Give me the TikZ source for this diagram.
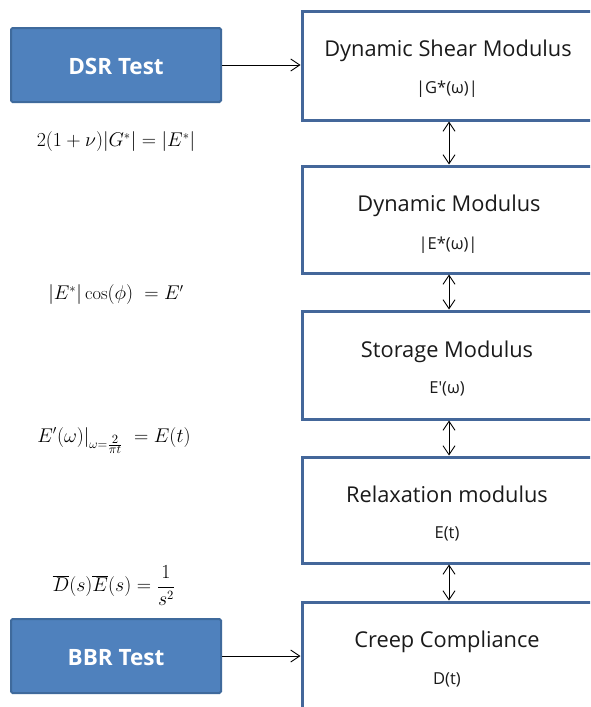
\documentclass[tikz,border=0pt]{standalone}
\usepackage{fontspec}
\usepackage{graphicx}
\usetikzlibrary{arrows.meta}
\newfontfamily\boxfont{Open Sans}
\definecolor{testfill}{HTML}{4F81BD}
\definecolor{testdraw}{HTML}{3F6A9C}
\definecolor{rboxdraw}{HTML}{44679A}
\definecolor{txt}{HTML}{1A1A1A}
\newcommand{\eqscale}[1]{\scalebox{1.15}{#1}}
\begin{document}
\begin{tikzpicture}[x=1pt,y=-1pt,
  testbox/.style={fill=testfill,draw=testdraw,line width=2pt,rounded corners=1.5pt,
    minimum width=210pt,minimum height=74pt,inner sep=0pt},
  testlabel/.style={anchor=base,text=white,font=\boxfont\bfseries\fontsize{22.5}{24}\selectfont,inner sep=0pt},
  rbox/.style={draw=rboxdraw,line width=3pt,minimum width=294pt,inner sep=0pt,fill=white},
  title/.style={anchor=base,text=txt,font=\boxfont\fontsize{21.8}{24}\selectfont,inner sep=0pt},
  sub/.style={anchor=base,text=txt,font=\boxfont\fontsize{16.5}{18}\selectfont,inner sep=0pt},
  eq/.style={anchor=base,inner sep=0pt,font=\fontsize{16}{18}\selectfont},
  conn/.style={line width=0.9pt,black},
  tip/.tip={Straight Barb[length=9pt,width=12pt,line width=0.9pt]}
]
\useasboundingbox (0,0) rectangle (590,707);
\clip (0,0) rectangle (590,707);
\fill[white] (0,0) rectangle (590,707);

% right boxes
\node[rbox,minimum height=109pt] (b1) at (449,65.5) {};
\node[rbox,minimum height=107pt] (b2) at (449,219.5) {};
\node[rbox,minimum height=108pt] (b3) at (449,365) {};
\node[rbox,minimum height=106pt] (b4) at (449,510) {};
\node[rbox,minimum height=112pt] (b5) at (449,658) {};

\node[title] (t1) at (448,56.7) {Dynamic Shear Modulus};
\node[sub]   (s1) at (447,93) {|G*(ω)|};
\node[title] (t2) at (449,211.7) {Dynamic Modulus};
\node[sub]   (s2) at (448,249) {|E*(ω)|};
\node[title] (t3) at (447,357.3) {Storage Modulus};
\node[sub]   (s3) at (447,393) {E′(ω)};
\node[title] (t4) at (447,502.3) {Relaxation modulus};
\node[sub]   (s4) at (447,538) {E(t)};
\node[title] (t5) at (447,647.7) {Creep Compliance};
\node[sub]   (s5) at (447,684) {D(t)};

% test boxes
\node[testbox] (dsr) at (116,65) {};
\node[testlabel] (dsrl) at (116,74) {DSR Test};
\node[testbox] (bbr) at (116,656) {};
\node[testlabel] (bbrl) at (116,665) {BBR Test};

% equations
\node[eq] (e1) at (116,146.7) {\eqscale{$2(1+\nu)|G^*| = |E^*|$}};
\node[eq] (e2) at (116,299.3) {\eqscale{$|E^*|\cos(\phi)\ = E'$}};
\node[eq] (e3) at (114,442) {\eqscale{$E'(\omega)\big|_{\omega=\frac{\scriptstyle 2}{\scriptstyle \pi t}}\ = E(t)$}};
\node[eq] (e4) at (114,591.7) {\eqscale{$\overline{D}(s)\overline{E}(s) = \displaystyle\frac{1}{s^2}$}};

% connectors
\draw[conn,-tip] (dsr.east) -- (dsr.east -| b1.west);
\draw[conn,-tip] (bbr.east) -- (bbr.east -| b5.west);
\draw[conn,tip-tip] (b1.south) -- (b2.north);
\draw[conn,tip-tip] (b2.south) -- (b3.north);
\draw[conn,tip-tip] (b3.south) -- (b4.north);
\draw[conn,tip-tip] (b4.south) -- (b5.north);
\end{tikzpicture}
\end{document}
